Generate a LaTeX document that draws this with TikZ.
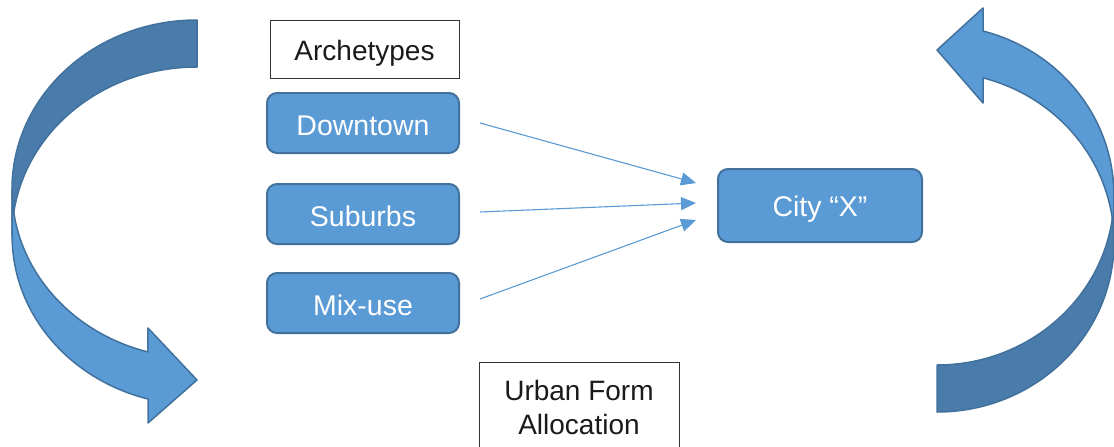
\documentclass[tikz,border=0pt]{standalone}
\usepackage{fontspec}
\setmainfont{Liberation Sans}
\usetikzlibrary{arrows.meta}
\definecolor{fillblue}{HTML}{5B9BD5}
\definecolor{darkblue}{HTML}{497CAA}
\definecolor{edgeblue}{HTML}{41719C}
\definecolor{txtgray}{HTML}{1A1A1A}
\tikzset{
  plainbox/.style={draw=black!80, line width=1pt, fill=white, text=txtgray,
    inner sep=0pt, font=\fontsize{28}{34}\selectfont, align=center},
  bluebox/.style={draw=edgeblue, line width=2pt, fill=fillblue, text=white,
    rounded corners=10pt, inner sep=0pt, minimum width=192pt, minimum height=60pt,
    text height=25pt, text depth=0pt,
    font=\fontsize{28.5}{34}\selectfont},
  conn/.style={draw=fillblue, line width=1.1pt, -{Triangle[length=15pt,width=13pt]}},
  bandfront/.style={fill=fillblue, draw=edgeblue, line width=1.5pt, line join=round},
  bandback/.style={fill=darkblue, draw=edgeblue, line width=1.5pt, line join=round}
}
\begin{document}
\begin{tikzpicture}[x=1pt,y=1pt]
\useasboundingbox (0,0) rectangle (1114,-447);
\clip (0,0) rectangle (1114,-447);

% left curved arrow: back (dark) part
\path[bandback] (197,-20) arc[start angle=90, end angle=180, x radius=185, y radius=169]
  -- (12,-236) arc[start angle=180, end angle=90, x radius=185, y radius=169] -- cycle;
% left curved arrow: front (light) part with head
\path[bandfront] (12,-189) arc[start angle=180, end angle=254.6, x radius=185, y radius=169]
  -- (148,-328) -- (197,-380) -- (148,-423) -- (148,-399)
  arc[start angle=254.6, end angle=180, x radius=185, y radius=169] -- cycle;

% right curved arrow: back (dark) part
\path[bandback] (937,-412) arc[start angle=270, end angle=360, x radius=177, y radius=170]
  -- (1114,-195) arc[start angle=0, end angle=-90, x radius=177, y radius=170] -- cycle;
% right curved arrow: front (light) part with head
\path[bandfront] (1114,-242) arc[start angle=0, end angle=74.9, x radius=177, y radius=170]
  -- (983,-103) -- (937,-50) -- (983,-8) -- (983,-31)
  arc[start angle=74.9, end angle=0, x radius=177, y radius=170] -- cycle;

% boxes
\node[plainbox, minimum width=189pt, minimum height=58pt, text height=22pt, text depth=0pt] (arch) at (364.5,-49) {Archetypes};
\node[bluebox] (down) at (363,-123) {Downtown};
\node[bluebox] (sub) at (363,-214) {Suburbs};
\node[bluebox] (mix) at (363,-303) {Mix-use};
\node[bluebox, minimum width=204pt, minimum height=73pt, text height=22.5pt] (city) at (820,-205.5) {City “X”};
\node[plainbox, minimum width=200pt, minimum height=90pt] (urban) at (579,-407) {Urban Form\\Allocation};

% connectors
\draw[conn] ([xshift=20pt]down.east) -- ([shift={(-21pt,22.5pt)}]city.west);
\draw[conn] ([shift={(20pt,2pt)}]sub.east) -- ([shift={(-21pt,2.5pt)}]city.west);
\draw[conn] ([shift={(20pt,4pt)}]mix.east) -- ([shift={(-21pt,-14.5pt)}]city.west);
\end{tikzpicture}
\end{document}
